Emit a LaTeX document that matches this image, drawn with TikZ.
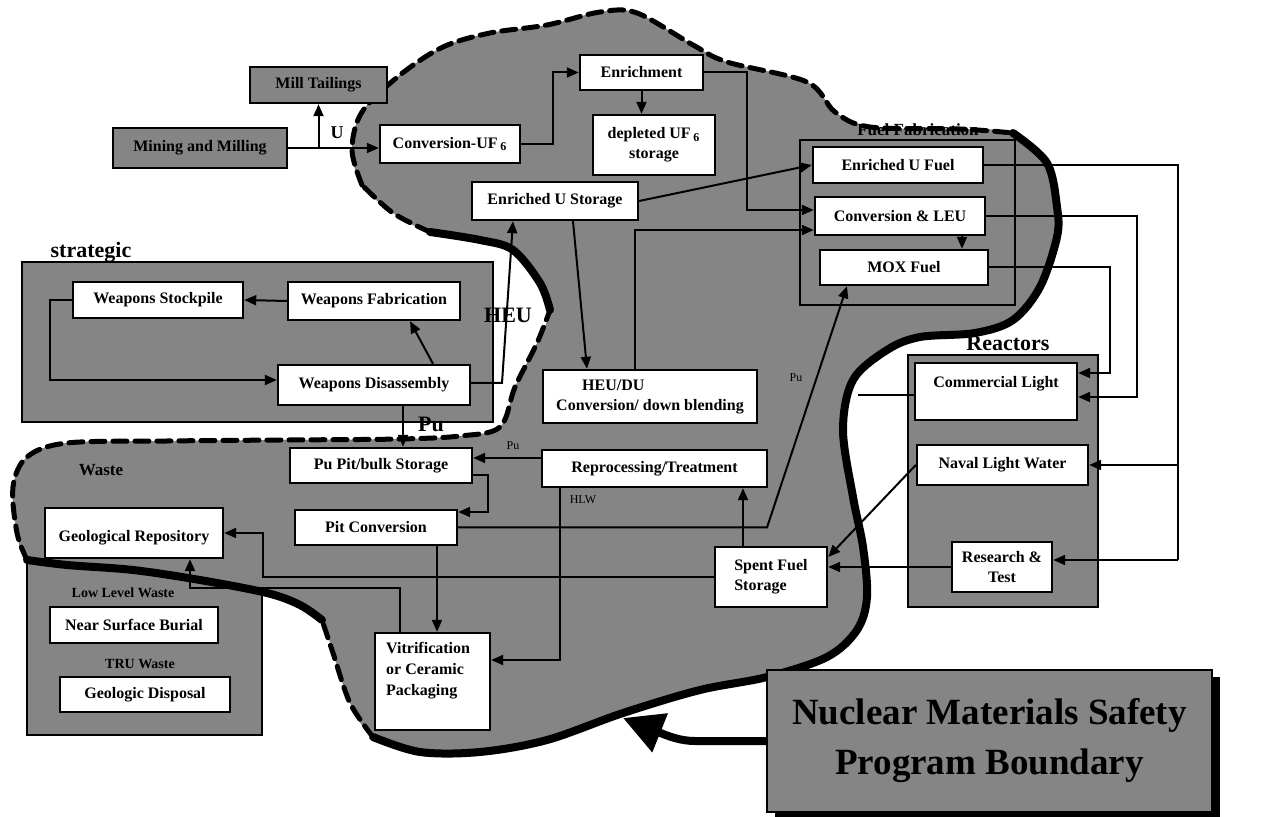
\documentclass[tikz,border=0pt]{standalone}
\usepackage{fontspec}
\setmainfont{Liberation Serif}
\usetikzlibrary{arrows.meta,calc}
\definecolor{hatch}{gray}{0.52}
\newcommand{\mybox}[7][box]{\node[#1, minimum width={(#4-#2)*0.5pt}, minimum height={(#5-#3)*0.5pt}] (#6) at ({(#2+#4)/2},{(#3+#5)/2}) {#7};}
\tikzset{
  box/.style={draw, line width=1.2pt, fill=white, inner sep=1pt, align=center, font=\fontsize{8}{10}\selectfont\bfseries},
  grp/.style={draw, line width=1.2pt, fill=hatch, inner sep=0pt},
  gbox/.style={grp, font=\fontsize{8}{10}\selectfont\bfseries},
  arr/.style={line width=1pt, -{Triangle[length=6pt,width=5pt]}},
  ln/.style={line width=1pt},
  biglab/.style={font=\fontsize{11}{13}\selectfont\bfseries, inner sep=0pt},
  midlab/.style={font=\fontsize{8.5}{10}\selectfont\bfseries, inner sep=0pt},
  smlab/.style={font=\fontsize{7}{8}\selectfont\bfseries, inner sep=0pt},
  tiny/.style={font=\fontsize{6}{7}\selectfont, inner sep=0pt},
  dashedge/.style={line width=2.5pt, dash pattern=on 7pt off 4pt, line cap=round},
  solidedge/.style={line width=4pt, line join=round, line cap=round},
}
\begin{document}
\begin{tikzpicture}[x=0.5pt,y=-0.5pt]
\useasboundingbox (0,0) rectangle (1263,817);

% waste group (lies under the boundary region)
\mybox[grp]{27}{485}{262}{735}{wastegrp}{}

% program boundary region
\fill[hatch] plot[smooth cycle, tension=0.55] coordinates {(352,150) (362,112) (400,75) (443,47) (490,33) (547,25) (600,12) (637,13) (693,45) (727,62) (807,82) (835,112) (870,127) (960,129) (1013,133) (1047,163) (1057,207) (1057,237) (1040,287) (1013,320) (975,333) (920,337) (887,350) (853,380) (843,430) (853,497) (863,547) (867,597) (857,630) (827,657) (767,677) (700,690) (623,713) (547,740) (480,752) (420,752) (373,737) (350,703) (333,653) (322,620) (300,605) (267,593) (200,580) (133,570) (67,565) (27,560) (17,533) (13,487) (27,457) (67,443) (167,441) (283,440) (400,439) (460,436) (500,427) (515,387) (537,343) (550,310) (540,283) (513,250) (480,240) (430,232) (393,213) (362,185)};
\draw[dashedge] plot[smooth, tension=0.55] coordinates {(362,185) (352,150) (362,112) (400,75) (443,47) (490,33) (547,25) (600,12) (637,13) (693,45) (727,62) (807,82) (835,112) (870,127) (960,129) (1013,133)};
\draw[solidedge] plot[smooth, tension=0.55] coordinates {(1013,133) (1047,163) (1057,207) (1057,237) (1040,287) (1013,320) (975,333) (920,337) (887,350) (853,380) (843,430) (853,497) (863,547) (867,597) (857,630) (827,657) (767,677) (700,690) (623,713) (547,740) (480,752) (420,752) (373,737)};
\draw[dashedge] plot[smooth, tension=0.55] coordinates {(373,737) (350,703) (333,653) (322,620)};
\draw[solidedge] plot[smooth, tension=0.55] coordinates {(322,620) (300,605) (267,593) (200,580) (133,570) (67,565) (27,560)};
\draw[dashedge] plot[smooth, tension=0.55] coordinates {(27,560) (17,533) (13,487) (27,457) (67,443) (167,441) (283,440) (400,439) (460,436) (500,427) (515,387) (537,343) (550,310)};
\draw[solidedge] plot[smooth, tension=0.55] coordinates {(550,310) (540,283) (513,250) (480,240) (430,232)};
\draw[dashedge] plot[smooth, tension=0.55] coordinates {(430,232) (393,213) (362,185)};

% groups
\mybox[grp]{22}{262}{493}{422}{stratgrp}{}
\mybox[grp]{800}{140}{1015}{305}{fuelgrp}{}
\mybox[grp]{908}{355}{1098}{607}{reactgrp}{}
\mybox[gbox]{250}{67}{387}{103}{mill}{Mill Tailings}
\mybox[gbox]{113}{128}{287}{168}{mining}{Mining and Milling}

% boxes
\mybox{380}{125}{520}{163}{convuf}{Conversion-UF\,\textsubscript{6}}
\mybox{580}{55}{703}{90}{enrich}{Enrichment}
\mybox{593}{115}{715}{175}{depl}{depleted UF\,\textsubscript{6}\\storage}
\mybox{472}{182}{638}{220}{eus}{Enriched U Storage}
\mybox{813}{147}{983}{183}{euf}{Enriched U Fuel}
\mybox{815}{197}{985}{235}{cleu}{Conversion \& LEU}
\mybox{820}{250}{988}{285}{mox}{MOX Fuel}
\mybox[box,align=left]{543}{370}{757}{423}{heudu}{\hspace*{13pt}HEU/DU\\Conversion/ down blending}
\mybox{73}{282}{243}{318}{wstock}{Weapons Stockpile}
\mybox{288}{282}{460}{320}{wfab}{Weapons Fabrication}
\mybox{278}{365}{470}{405}{wdis}{Weapons Disassembly}
\mybox{915}{363}{1077}{420}{clw}{Commercial Light\\\mbox{}}
\mybox{917}{445}{1088}{485}{nlw}{Naval Light Water}
\mybox{952}{542}{1052}{592}{rt}{Research \&\\Test}
\mybox{290}{448}{472}{483}{pupit}{Pu Pit/bulk Storage}
\mybox{295}{510}{457}{545}{pitc}{Pit Conversion}
\mybox{542}{450}{767}{487}{reproc}{Reprocessing/Treatment}
\mybox[box,align=left]{715}{547}{827}{607}{sfs}{Spent Fuel\\Storage}
\mybox{375}{633}{490}{730}{vit}{}
\node[anchor=north west, align=left, inner sep=0pt, font=\fontsize{8}{10.5}\selectfont\bfseries] (vittext) at ([xshift=6pt,yshift=-5pt]vit.north west) {Vitrification\\or Ceramic\\Packaging};
\mybox{45}{508}{223}{558}{geo}{\mbox{}\\Geological Repository}
\mybox{50}{607}{218}{643}{nsb}{Near Surface Burial}
\mybox{60}{677}{230}{712}{gd}{Geologic Disposal}

% title box with shadow
\fill (775,677) rectangle (1220,817);
\mybox[grp, font=\fontsize{18.5}{25}\selectfont\bfseries, align=center]{767}{670}{1212}{812}{title}{Nuclear Materials Safety\\Program Boundary}

% connectors: front end
\draw[arr] (mining.east) -- (mining.east -| convuf.west);
\draw[arr] (mill.south |- mining.east) -- (mill.south);
\draw[arr] (convuf.east) -- (553,144) -- (553,72.5) -- (enrich.west);
\draw[arr] (enrich.south) -- (enrich.south |- depl.north);
\draw[arr] (enrich.east) -- (747,72.5) -- (747,210) -- (cleu.west |- 747,210);
\draw[arr] (eus.east) -- (euf.west);
\draw[arr] (heudu.north -| 635,0) -- (635,230) -- (cleu.west |- 635,230);
\draw[arr] (cleu.south -| 962,0) -- (mox.north -| 962,0);

% fuel to reactors
\draw[ln] (euf.east) -- (1178,165) -- (1178,560);
\draw[arr] (1178,465) -- (nlw.east);
\draw[arr] (1178,560) -- (rt.east |- 1178,560);
\draw[arr] (cleu.east) -- (1137,216) -- (1137,397) -- (clw.east |- 1137,397);
\draw[arr] (mox.east) -- (1110,267.5) -- (1110,373) -- (clw.east |- 1110,373);
\coordinate (clwend) at (858,395);
\draw[ln] (clw.west |- clwend) -- (clwend);
\draw[arr] (nlw.west) -- ([yshift=10pt]sfs.east);
\draw[arr] (rt.west) -- (rt.west -| sfs.east);

% back end
\draw[arr] (sfs.north -| 743,0) -- (reproc.south -| 743,0);
\draw[arr] (pitc.east) -- (767,527.5) -- (mox.south -| 847,0);
\draw[arr] (sfs.west) -- (263,577) -- (263,533) -- (geo.east);
\draw[arr] (vit.north -| 400,0) -- (400,588) -- (190,588) -- (geo.south -| 190,0);
\draw[arr] (pitc.south -| 437,0) -- (vit.north -| 437,0);
\draw[arr] (pupit.east |- 0,475) -- (488,475) -- (488,512) -- (pitc.east |- 0,512);
\draw[arr] (reproc.west |- 0,458) -- (pupit.east |- 0,458);
\draw[arr] (reproc.south -| 560,0) -- (560,660) -- (vit.east |- 560,660);
\draw[arr] (wdis.south -| 403,0) -- (pupit.north -| 403,0);

% strategic
\draw[arr] (wfab.west) -- (wstock.east);
\draw[arr] (wdis.north -| 433,0) -- (wfab.south -| 410,0);
\draw[arr] (wstock.west) -- (50,300) -- (50,380) -- (wdis.west |- 50,380);
\draw[arr] (wdis.east |- 0,383) -- (502,383) -- (eus.south -| 513,0);
\draw[arr] (eus.south -| 573,0) -- (heudu.north -| 587,0);

% title arrow
\draw[line width=4pt, -{Triangle[length=20pt,width=20pt]}] (title.west) -- (695,741) .. controls (680,741) and (668,736) .. (623,718);

% labels
\node[biglab] (lstrat) at (91,252) {strategic};
\node[biglab] (lreact) at (1008,343) {Reactors};
\node[biglab] (lheu) at (508,315) {HEU};
\node[biglab] (lpu) at (431,424) {Pu};
\node[font=\fontsize{9}{10}\selectfont\bfseries, inner sep=0pt] (lu) at (337,133) {U};
\node[midlab] (lfuel) at (918,130) {Fuel Fabrication};
\node[midlab] (lwaste) at (101,470) {Waste};
\node[smlab] (llow) at (123,593) {Low Level Waste};
\node[smlab] (ltru) at (140,664) {TRU Waste};
\node[tiny] (lpu2) at (513,446) {Pu};
\node[tiny] (lhlw) at (583,500) {HLW};
\node[tiny] (lpu3) at (796,378) {Pu};
\end{tikzpicture}
\end{document}
